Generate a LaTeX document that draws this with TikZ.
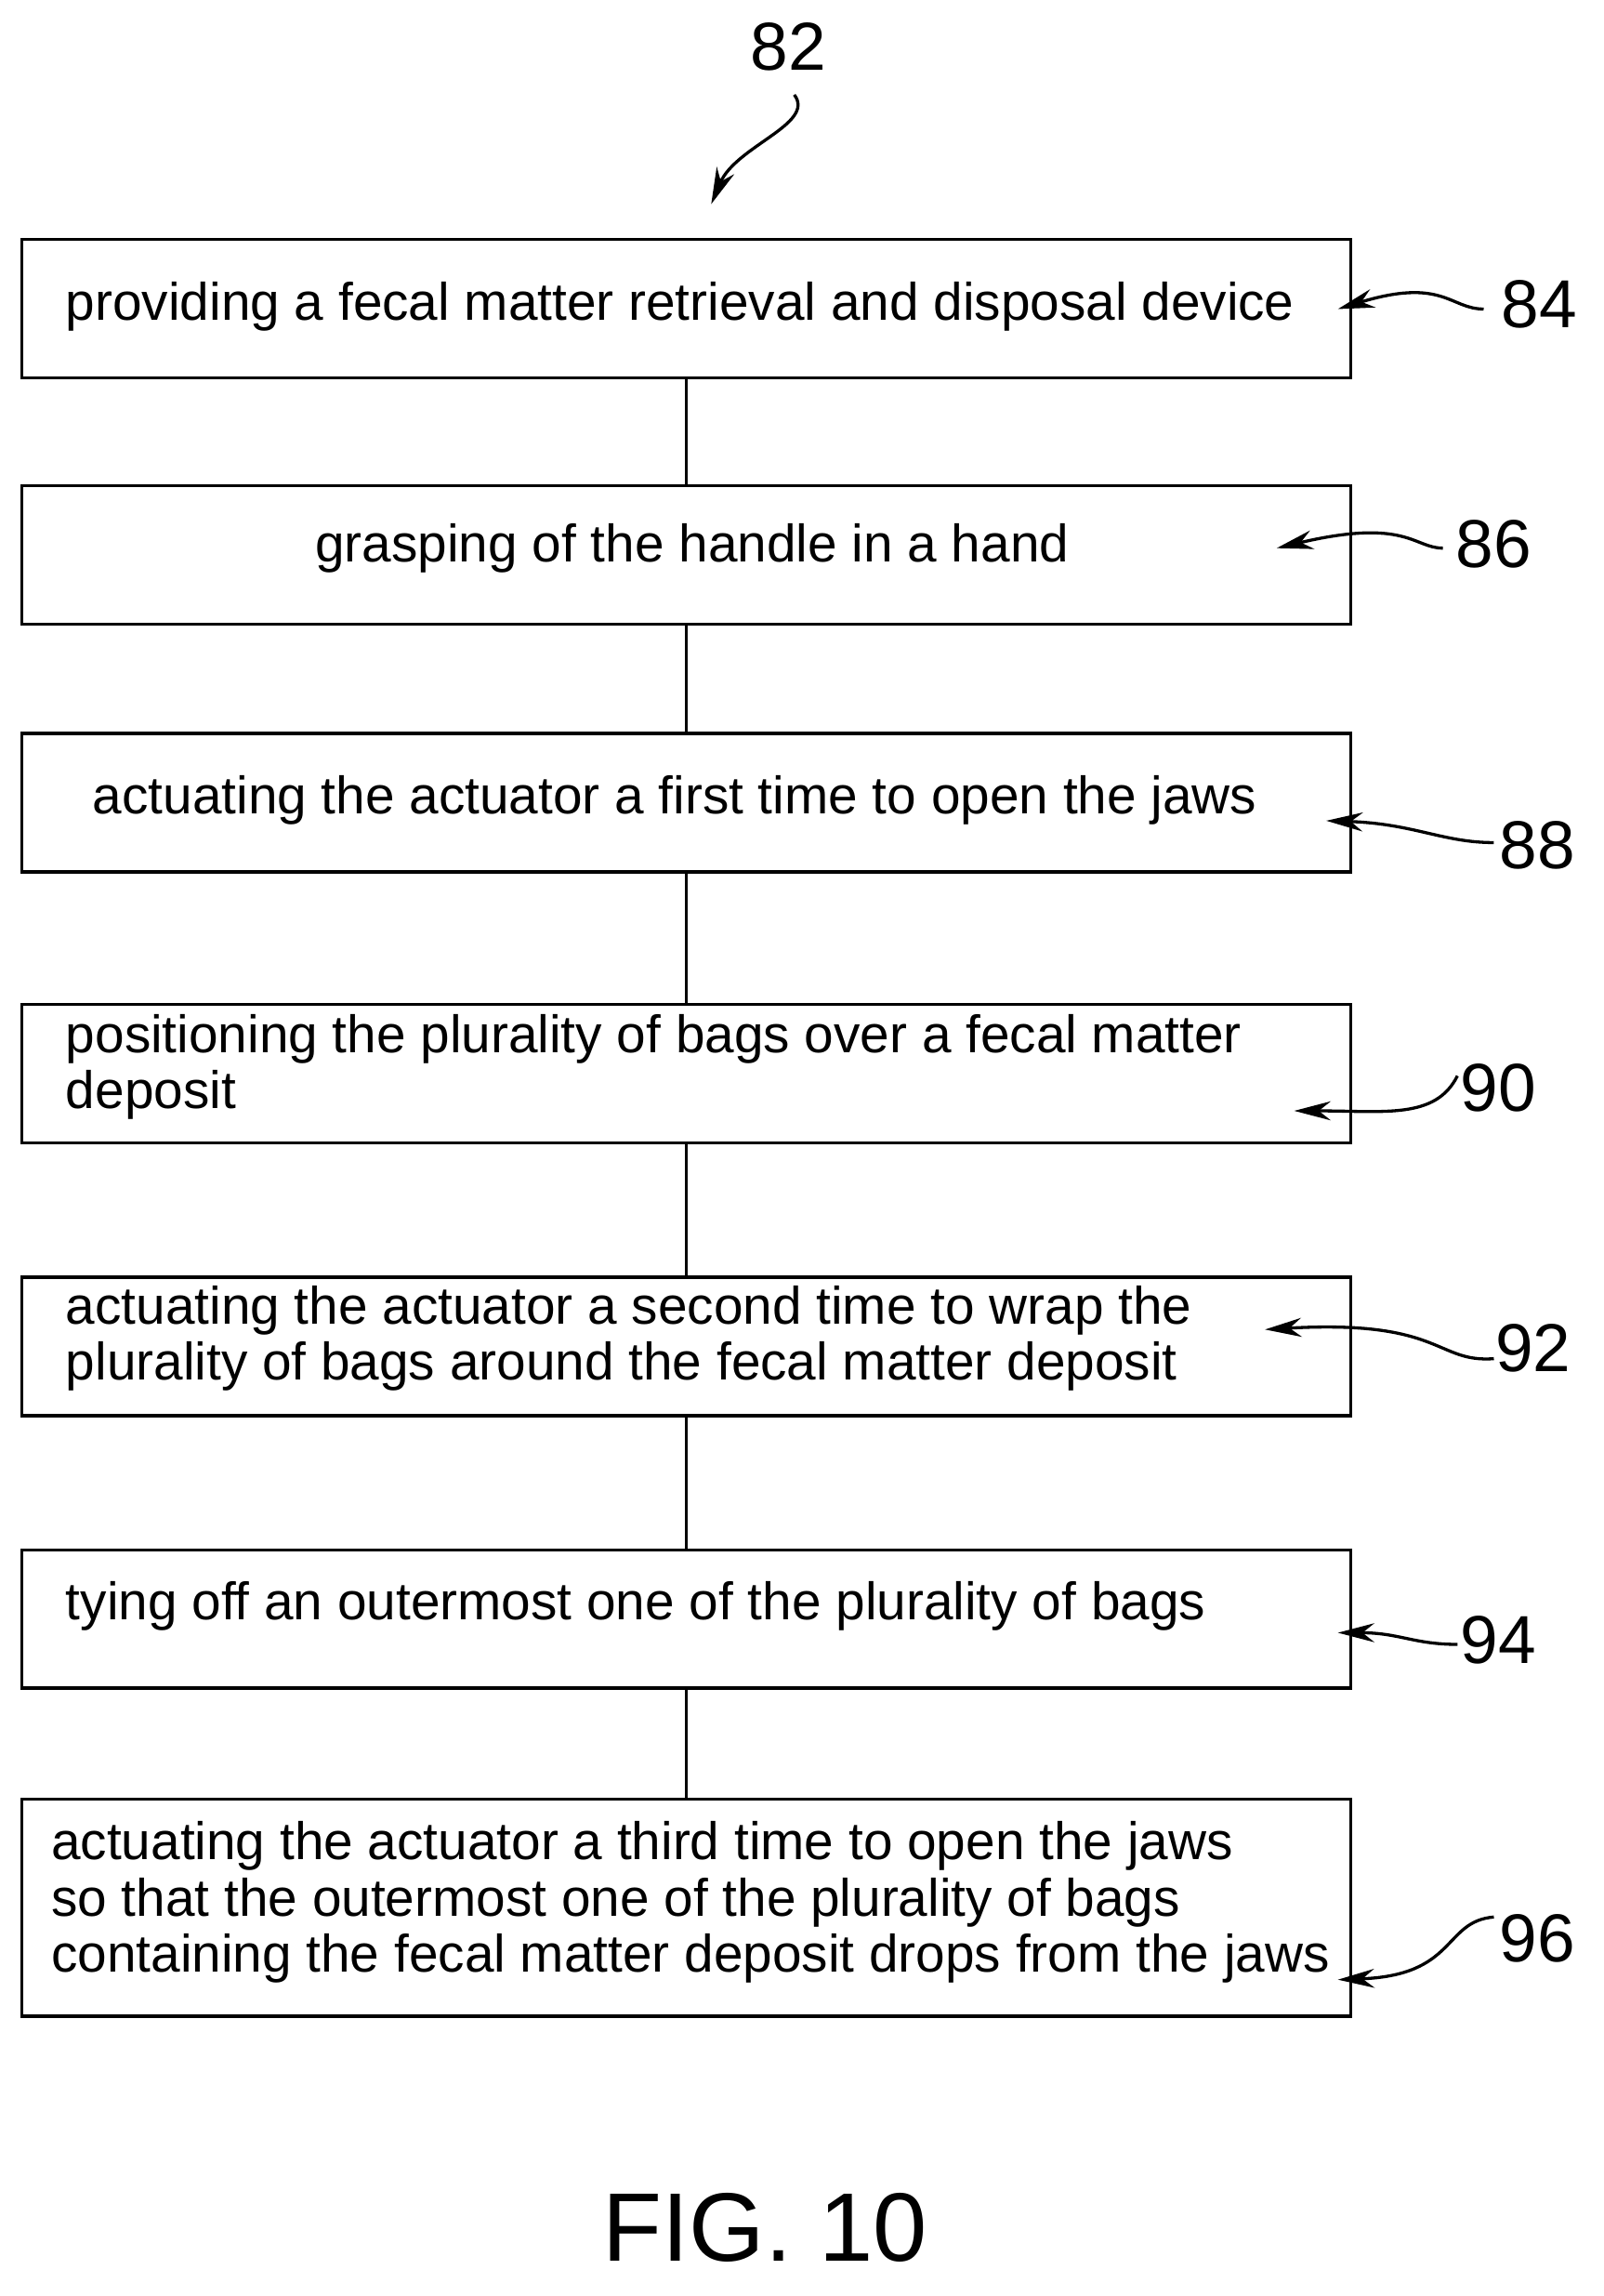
\documentclass[tikz,border=0pt]{standalone}
\usepackage{fontspec}
\setmainfont{Liberation Sans}
\usetikzlibrary{arrows.meta}

\tikzset{
  stepbox/.style={draw, line width=1.2pt, minimum width=18.24cm, anchor=north west, inner sep=0pt},
  txt/.style={font=\fontsize{20.6}{22}\selectfont, align=left},
  num/.style={font=\fontsize{26.5}{28}\selectfont},
  lead/.style={line width=1.2pt, -{Stealth[length=0.5cm,width=0.26cm]}},
}

\begin{document}
\begin{tikzpicture}[x=0.02cm,y=-0.02cm]
\useasboundingbox (0,0) rectangle (1100,1575);

\node[stepbox, minimum height=1.9cm] (b1) at (14,163) {};
\node[stepbox, minimum height=1.9cm] (b2) at (14,332) {};
\node[stepbox, minimum height=1.9cm] (b3) at (14,502) {};
\node[stepbox, minimum height=1.9cm] (b4) at (14,688) {};
\node[stepbox, minimum height=1.9cm] (b5) at (14,875) {};
\node[stepbox, minimum height=1.9cm] (b6) at (14,1062) {};
\node[stepbox, minimum height=2.98cm] (b7) at (14,1233) {};

\node[txt, anchor=west] (t1) at (39,210) {providing a fecal matter retrieval and disposal device};
\node[txt] (t2) at (475,376) {grasping of the handle in a hand};
\node[txt] (t3) at (463,549) {actuating the actuator a first time to open the jaws};
\node[txt, anchor=west] (t4) at (39,732) {positioning the plurality of bags over a fecal matter\\deposit};
\node[txt, anchor=west] (t5) at (39,918) {actuating the actuator a second time to wrap the\\plurality of bags around the fecal matter deposit};
\node[txt, anchor=west] (t6) at (39,1102) {tying off an outermost one of the plurality of bags};
\node[txt, anchor=west] (t7) at (29,1305) {actuating the actuator a third time to open the jaws\\so that the outermost one of the plurality of bags\\containing the fecal matter deposit drops from the jaws};

\draw[line width=1.2pt] (b1.south) -- (b2.north);
\draw[line width=1.2pt] (b2.south) -- (b3.north);
\draw[line width=1.2pt] (b3.south) -- (b4.north);
\draw[line width=1.2pt] (b4.south) -- (b5.north);
\draw[line width=1.2pt] (b5.south) -- (b6.north);
\draw[line width=1.2pt] (b6.south) -- (b7.north);

% reference numerals
\node[num] (n82) at (541,32) {82};
\node[num] (n84) at (1056,209) {84};
\node[num] (n86) at (1025,373) {86};
\node[num] (n88) at (1055,580) {88};
\node[num] (n90) at (1028,746) {90};
\node[num] (n92) at (1052,925) {92};
\node[num] (n94) at (1028,1125) {94};
\node[num] (n96) at (1055,1330) {96};

\coordinate (a82) at (488,140);
\coordinate (a84) at (918,212);
\coordinate (a86) at (876,376);
\coordinate (a88) at (910,563);
\coordinate (a90) at (888,762);
\coordinate (a92) at (868,912);
\coordinate (a94) at (918,1120);
\coordinate (a96) at (918,1358);

\draw[lead] (545,65) .. controls (560,85) and (505,100) .. (a82);
\draw[lead] (1018,212) .. controls (995,212) and (990,190) .. (a84);
\draw[lead] (990,376) .. controls (970,376) and (965,355) .. (a86);
\draw[lead] (1025,578) .. controls (990,578) and (970,565) .. (a88);
\draw[lead] (1000,738) .. controls (985,768) and (950,762) .. (a90);
\draw[lead] (1025,932) .. controls (985,935) and (990,905) .. (a92);
\draw[lead] (1000,1128) .. controls (970,1128) and (960,1120) .. (a94);
\draw[lead] (1025,1315) .. controls (990,1318) and (1000,1355) .. (a96);

\node[font=\fontsize{38}{40}\selectfont] (fig) at (525,1528) {FIG. 10};
\end{tikzpicture}
\end{document}
